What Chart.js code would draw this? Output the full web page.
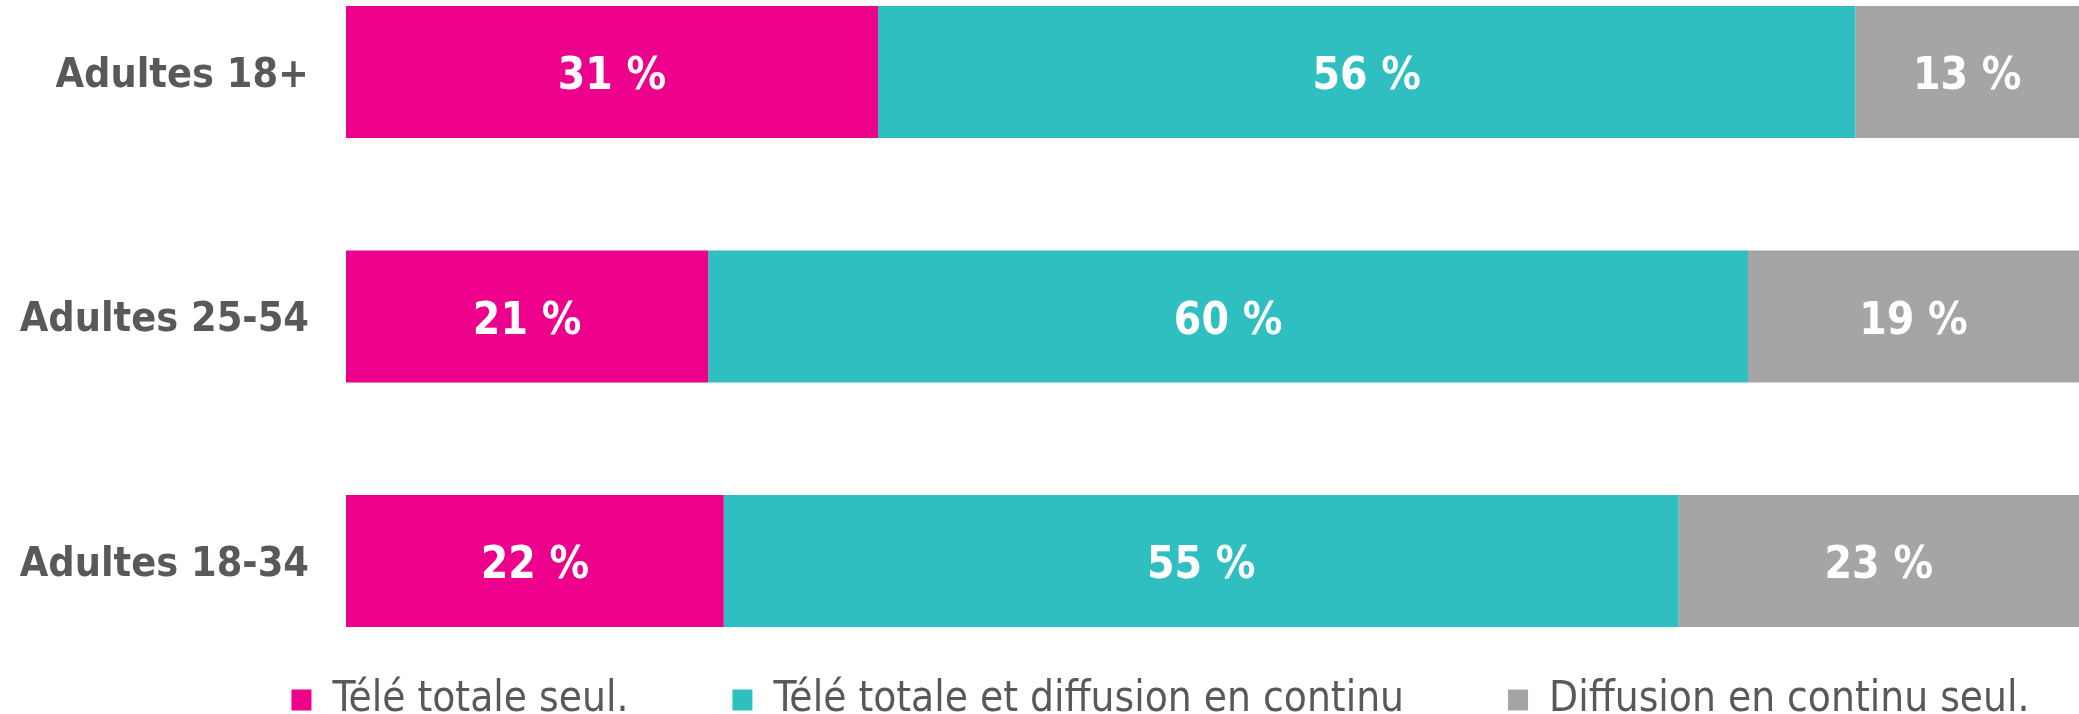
<!DOCTYPE html>
<html>
<head>
<meta charset="utf-8">
<script src="https://cdn.jsdelivr.net/npm/chart.js@4.4.1/dist/chart.umd.min.js"></script>
<style>
  html, body { margin: 0; padding: 0; background: #fff; }
  canvas { display: block; }
</style>
</head>
<body>
<canvas id="chart" width="2079" height="714"></canvas>
<script>
// stacked share bars, audience groups
const categories = ['Adultes 18+', 'Adultes 25-54', 'Adultes 18-34'];
const seriesNames = ['Télé totale seul.', 'Télé totale et diffusion en continu', 'Diffusion en continu seul.'];
const teleOnly = [30.7, 20.9, 21.8];
const teleAndStream = [56.4, 60.0, 55.1];
const streamOnly = [12.9, 19.1, 23.1];

const colors = ['#EC008C', '#2FBFC1', '#A5A5A5'];
const FONT = "'DejaVu Sans Condensed', 'DejaVu Sans', Verdana, sans-serif";

// draws "31 %" style labels in the middle of each segment
const segmentLabels = {
  id: 'segmentLabels',
  afterDatasetsDraw(chart) {
    const ctx = chart.ctx;
    ctx.save();
    ctx.font = 'bold 44px ' + FONT;
    ctx.fillStyle = '#ffffff';
    ctx.textAlign = 'center';
    ctx.textBaseline = 'middle';
    chart.data.datasets.forEach((ds, i) => {
      const meta = chart.getDatasetMeta(i);
      meta.data.forEach((bar, j) => {
        const p = bar.getCenterPoint();
        ctx.fillText(Math.round(ds.data[j]) + ' %', p.x, p.y + 6);
      });
    });
    ctx.restore();
  }
};

// the original legend sits right of the page centre
const legendShift = {
  id: 'legendShift',
  afterLayout(chart) {
    chart.legend.left += 121;
    chart.legend.right += 121;
  }
};

const values = [teleOnly, teleAndStream, streamOnly];

new Chart(document.getElementById('chart'), {
  type: 'bar',
  data: {
    labels: categories,
    datasets: values.map((v, i) => ({
      label: seriesNames[i],
      data: v,
      backgroundColor: colors[i],
      borderWidth: 0,
      categoryPercentage: 1,
      barPercentage: 0.54,
      clip: false
    }))
  },
  options: {
    indexAxis: 'y',
    responsive: false,
    animation: false,
    layout: { padding: { left: 0, right: 0, top: 72, bottom: -17 } },
    scales: {
      x: {
        stacked: true,
        min: 0,
        max: 100,
        display: true,
        ticks: { display: false },
        grid: { display: false, drawTicks: false },
        border: { display: false },
        afterFit(s) { s.height = 14; }
      },
      y: {
        stacked: true,
        offset: false,
        grid: { display: false, drawTicks: false },
        border: { display: false },
        ticks: {
          padding: 37,
          labelOffset: 4,
          color: '#595959',
          font: { family: FONT, size: 41, weight: 'bold' }
        },
        afterFit(s) { s.width = 346; }
      }
    },
    plugins: {
      tooltip: { enabled: false },
      legend: {
        position: 'bottom',
        labels: {
          boxWidth: 20,
          boxHeight: 21,
          padding: 104,
          color: '#595959',
          font: { family: FONT, size: 42 }
        }
      }
    }
  },
  plugins: [segmentLabels, legendShift]
});
</script>
</body>
</html>
